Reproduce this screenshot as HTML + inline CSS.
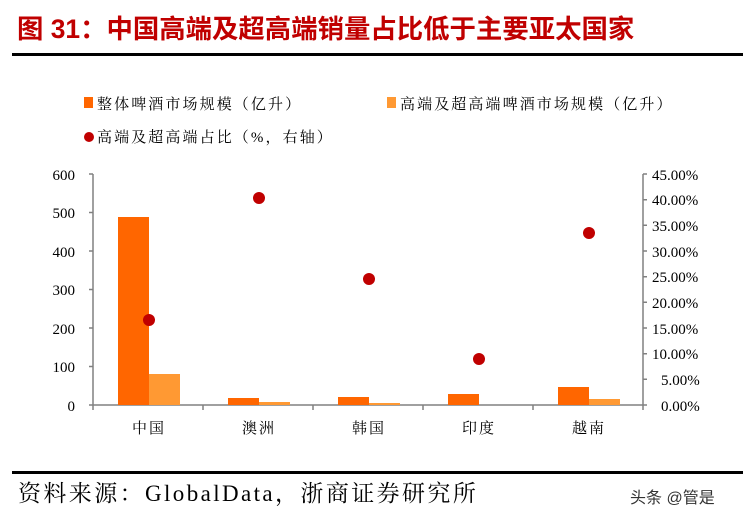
<!DOCTYPE html>
<html><head><meta charset="utf-8"><style>
body{margin:0;background:#fff;width:743px;height:524px;overflow:hidden}
svg{font-family:"Liberation Serif","Noto Serif CJK SC",serif}
</style></head><body>
<svg width="743" height="524" xmlns="http://www.w3.org/2000/svg">
<text x="17" y="38" font-family="Liberation Sans,Noto Sans CJK SC,sans-serif" font-weight="bold" font-size="26.4" fill="#c00000">图 31：中国高端及超高端销量占比低于主要亚太国家</text>
<rect x="12" y="53" width="731" height="3" fill="#000"/>
<rect x="84" y="97" width="9" height="11" fill="#ff6600"/>
<text x="97" y="109" font-size="15" letter-spacing="2.1" fill="#000">整体啤酒市场规模（亿升）</text>
<rect x="387" y="97" width="9" height="11" fill="#ff9933"/>
<text x="400" y="109" font-size="15" letter-spacing="2.1" fill="#000">高端及超高端啤酒市场规模（亿升）</text>
<circle cx="89" cy="137" r="5" fill="#c00000"/>
<text x="97" y="142" font-size="15" letter-spacing="2.1" fill="#000">高端及超高端占比（%，右轴）</text>
<g stroke="#808080" stroke-width="1.5" fill="none">
<line x1="93" y1="174" x2="93" y2="405"/>
<line x1="643" y1="174" x2="643" y2="405"/>
<line x1="89" y1="405" x2="647" y2="405"/>
<path d="M89 174h4M89 212.5h4M89 251h4M89 289.5h4M89 328h4M89 366.5h4"/>
<path d="M643 174h4M643 199.7h4M643 225.3h4M643 251h4M643 276.7h4M643 302.3h4M643 328h4M643 353.7h4M643 379.3h4"/>
<path d="M93 405v5M203 405v5M313 405v5M423 405v5M533 405v5M643 405v5"/>
</g>
<g font-size="15" fill="#000" text-anchor="end">
<text x="75" y="180">600</text><text x="75" y="218">500</text><text x="75" y="257">400</text><text x="75" y="295">300</text><text x="75" y="334">200</text><text x="75" y="372">100</text><text x="75" y="411">0</text>
</g>
<g font-size="15" fill="#000">
<text x="652" y="180">45.00%</text><text x="652" y="205">40.00%</text><text x="652" y="231">35.00%</text><text x="652" y="257">30.00%</text><text x="652" y="282">25.00%</text><text x="652" y="308">20.00%</text><text x="652" y="334">15.00%</text><text x="652" y="359">10.00%</text><text x="661" y="385">5.00%</text><text x="661" y="411">0.00%</text>
</g>
<g fill="#ff6600">
<rect x="118" y="217" width="31" height="188"/>
<rect x="228" y="398" width="31" height="7"/>
<rect x="338" y="397" width="31" height="8"/>
<rect x="448" y="394" width="31" height="11"/>
<rect x="558" y="387" width="31" height="18"/>
</g>
<g fill="#ff9933">
<rect x="149" y="374" width="31" height="31"/>
<rect x="259" y="402" width="31" height="3"/>
<rect x="369" y="403" width="31" height="2"/>
<rect x="589" y="399" width="31" height="6"/>
</g>
<g fill="#c00000">
<circle cx="149" cy="320" r="6"/><circle cx="259" cy="198" r="6"/><circle cx="369" cy="279" r="6"/><circle cx="479" cy="359" r="6"/><circle cx="589" cy="233" r="6"/>
</g>
<g font-size="15" fill="#000" text-anchor="middle" letter-spacing="2">
<text x="149" y="433">中国</text><text x="259" y="433">澳洲</text><text x="369" y="433">韩国</text><text x="479" y="433">印度</text><text x="589" y="433">越南</text>
</g>
<rect x="12" y="471" width="731" height="3" fill="#000"/>
<text x="18" y="501" font-size="23" letter-spacing="2.4" fill="#000">资料来源：GlobalData，浙商证券研究所</text>
<text x="630" y="503" font-family="Liberation Sans,Noto Sans CJK SC,sans-serif" font-size="16" fill="#333">头条 @管是</text>
</svg>
</body></html>
